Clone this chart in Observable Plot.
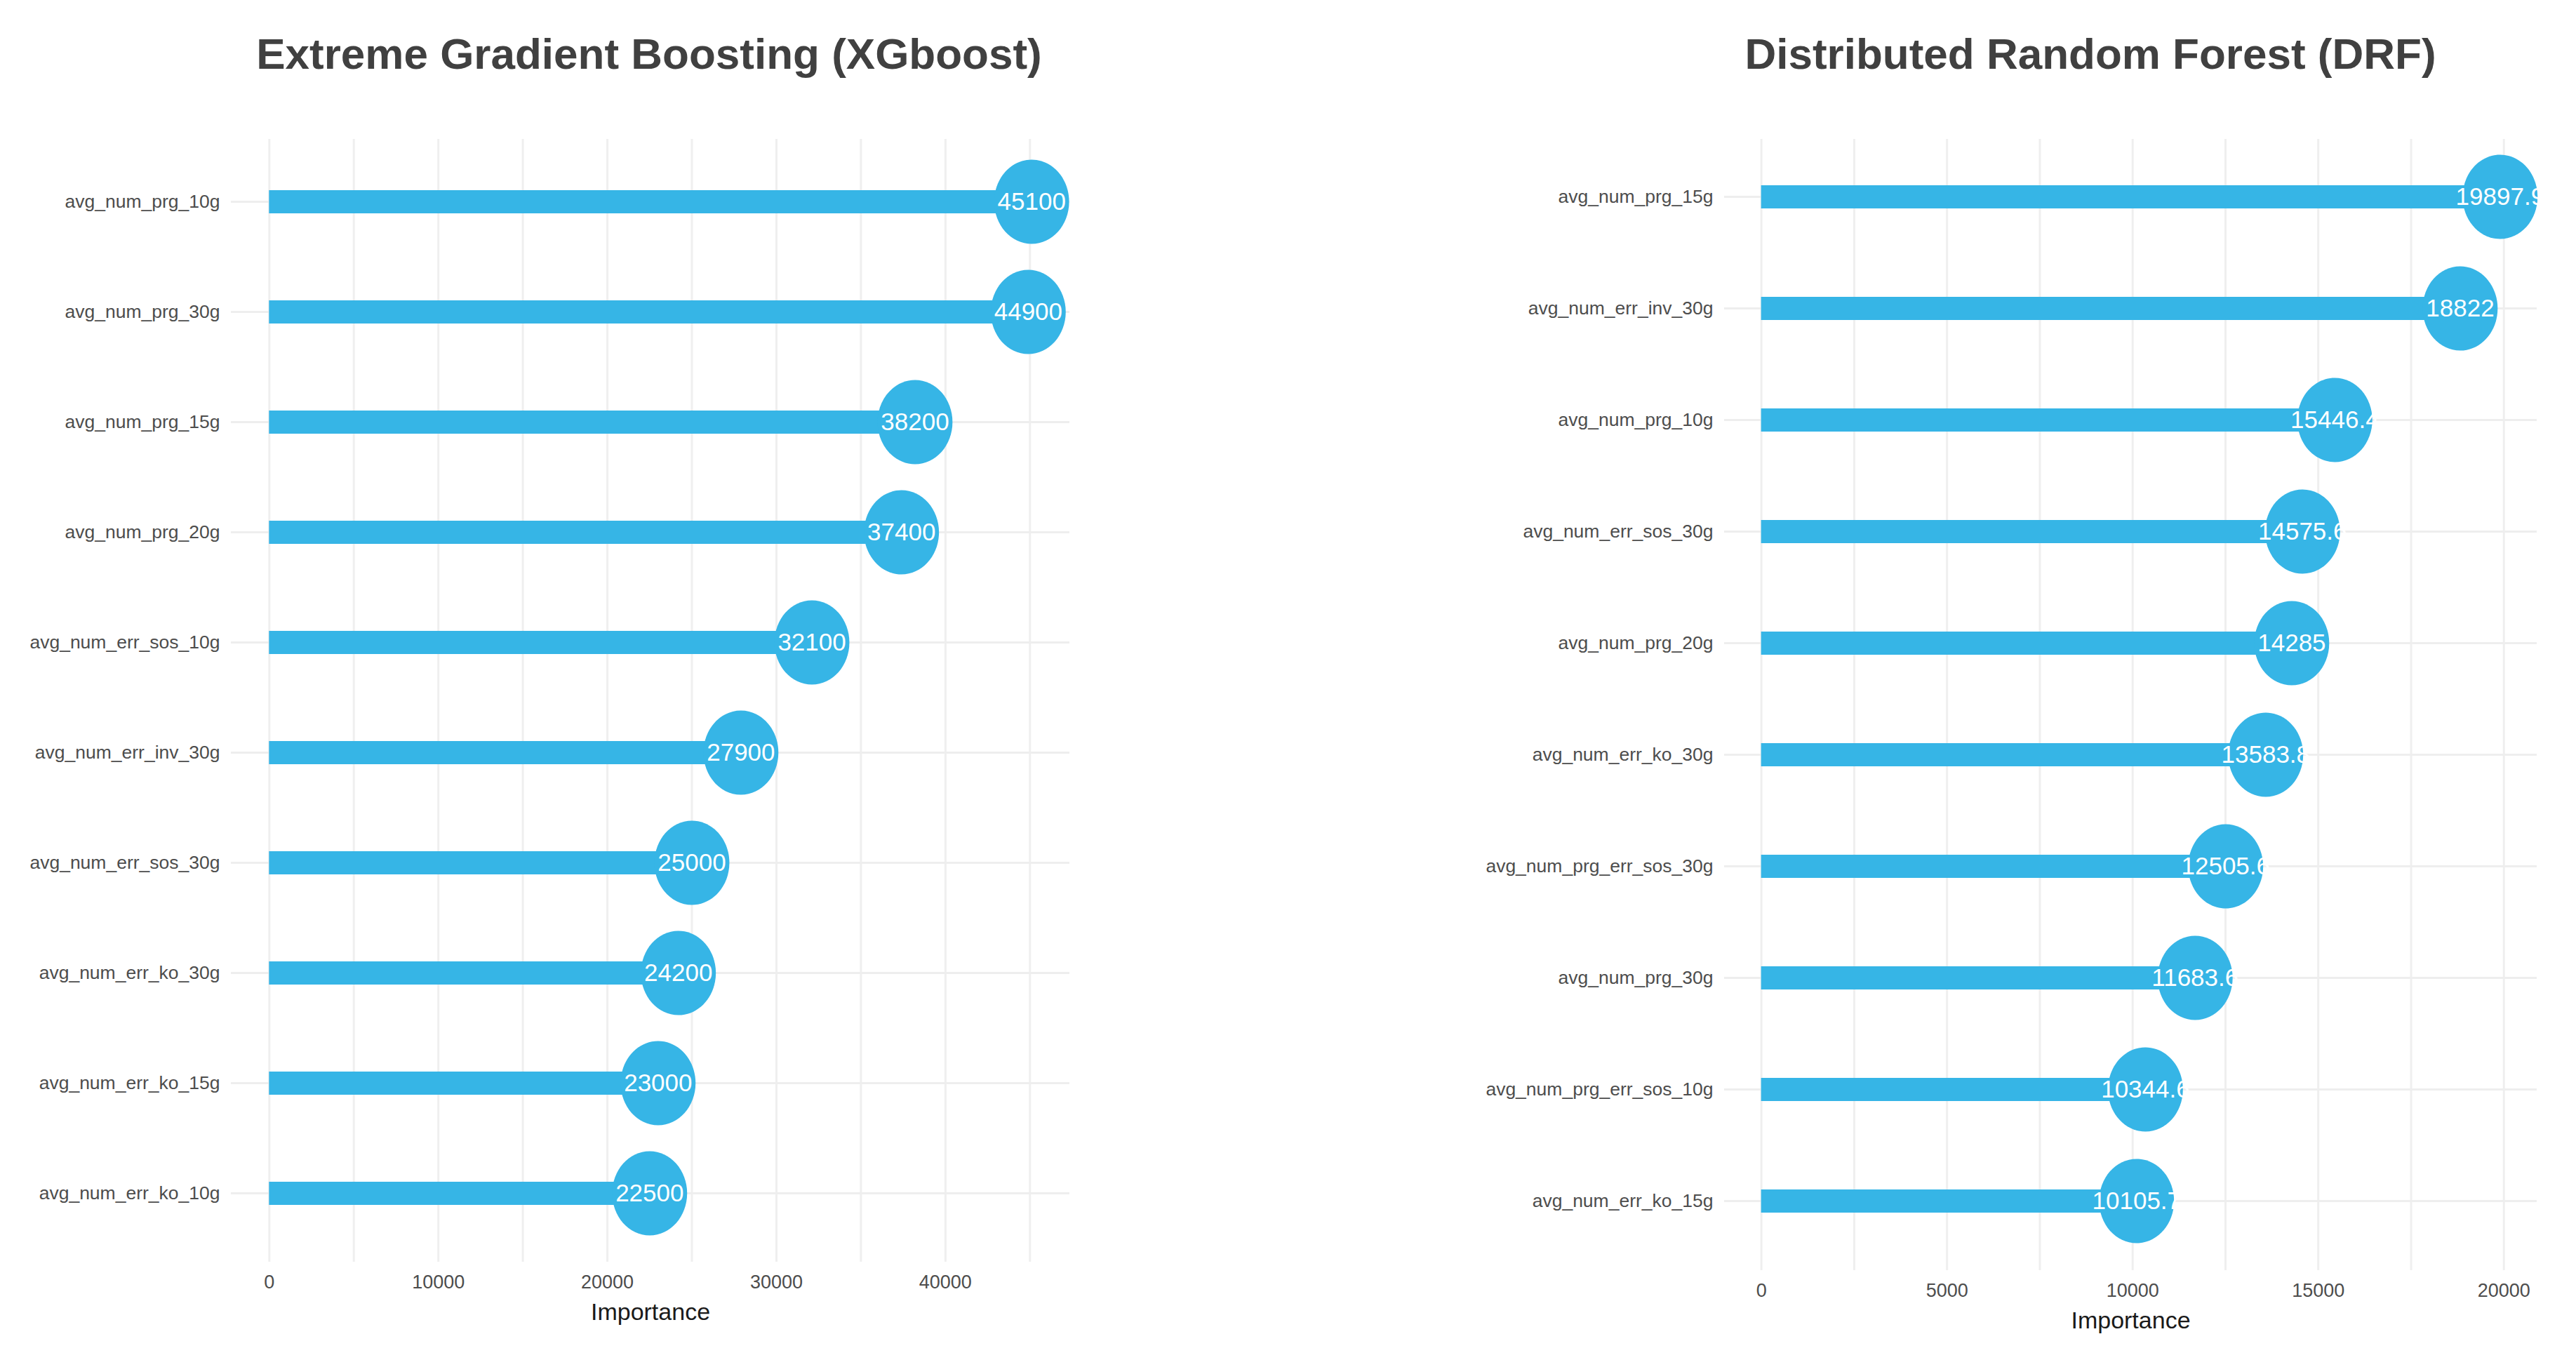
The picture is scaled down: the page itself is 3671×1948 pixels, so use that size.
<!DOCTYPE html>
<html>
<head>
<meta charset="utf-8">
<script src="https://cdn.jsdelivr.net/npm/d3@7"></script>
<script src="https://cdn.jsdelivr.net/npm/@observablehq/plot@0.6"></script>
<style>
  html, body { margin: 0; padding: 0; background: #ffffff; }
  body { width: 3671px; height: 1948px; position: relative; overflow: hidden;
         font-family: "Liberation Sans", Arial, Helvetica, sans-serif; }
  .title { position: absolute; top: 46px; font-size: 62px; line-height: 62px; font-weight: bold;
           color: #404040; text-align: center; white-space: nowrap; }
  .chart { position: absolute; top: 140px; }
</style>
</head>
<body>
<div id="t1" class="title"></div>
<div id="t2" class="title"></div>
<div id="c1" class="chart"></div>
<div id="c2" class="chart"></div>
<script>
// ---- data ----
const xgbTitle = "Extreme Gradient Boosting (XGboost)";
const xgbFeatures = ["avg_num_prg_10g", "avg_num_prg_30g", "avg_num_prg_15g", "avg_num_prg_20g",
  "avg_num_err_sos_10g", "avg_num_err_inv_30g", "avg_num_err_sos_30g", "avg_num_err_ko_30g",
  "avg_num_err_ko_15g", "avg_num_err_ko_10g"];
const xgbImportance = [45100, 44900, 38200, 37400, 32100, 27900, 25000, 24200, 23000, 22500];
const xgbTicks = [0, 10000, 20000, 30000, 40000];
const xgbGrid = [0, 5000, 10000, 15000, 20000, 25000, 30000, 35000, 40000, 45000];

const drfTitle = "Distributed Random Forest (DRF)";
const drfFeatures = ["avg_num_prg_15g", "avg_num_err_inv_30g", "avg_num_prg_10g", "avg_num_err_sos_30g",
  "avg_num_prg_20g", "avg_num_err_ko_30g", "avg_num_prg_err_sos_30g", "avg_num_prg_30g",
  "avg_num_prg_err_sos_10g", "avg_num_err_ko_15g"];
const drfImportance = [19897.9, 18822, 15446.4, 14575.6, 14285, 13583.8, 12505.6, 11683.6, 10344.6, 10105.7];
const drfTicks = [0, 5000, 10000, 15000, 20000];
const drfGrid = [0, 2500, 5000, 7500, 10000, 12500, 15000, 17500, 20000];

const axisLabel = "Importance";

// ---- styling ----
const barColor = "#36b5e6";
const fontFamily = '"Liberation Sans", Arial, Helvetica, sans-serif';

// ellipse symbol (points are slightly taller than wide)
const ellipse = {
  draw(ctx, size) {
    const r = Math.sqrt(size / Math.PI);
    const ry = r, rx = r * 0.89, k = 0.5523;
    ctx.moveTo(rx, 0);
    ctx.bezierCurveTo(rx, k * ry, k * rx, ry, 0, ry);
    ctx.bezierCurveTo(-k * rx, ry, -rx, k * ry, -rx, 0);
    ctx.bezierCurveTo(-rx, -k * ry, -k * rx, -ry, 0, -ry);
    ctx.bezierCurveTo(k * rx, -ry, rx, -k * ry, rx, 0);
    ctx.closePath();
  }
};

function lollipop({features, values, ticks, grid, width, height, marginLeft, marginRight,
                   marginTop, marginBottom, domain, yRange}) {
  const data = features.map((f, i) => ({name: f, value: values[i]}));
  return Plot.plot({
    width, height, marginLeft, marginRight, marginTop, marginBottom,
    style: {fontFamily, color: "#4d4d4d", background: "transparent", overflow: "visible"},
    x: {domain, nice: false},
    y: {type: "point", domain: features, range: yRange, padding: 0},
    marks: [
      Plot.ruleX(grid, {stroke: "#efefef", strokeWidth: 3}),
      Plot.ruleY(features, {stroke: "#eeeeee", strokeWidth: 3}),
      Plot.axisX({ticks, tickSize: 0, tickPadding: 18, fontSize: 27, tickFormat: "d", label: null}),
      Plot.axisY({tickSize: 0, tickPadding: 16, fontSize: 26.5, label: null}),
      Plot.text([axisLabel], {frameAnchor: "bottom", lineAnchor: "top", dy: 58, fontSize: 34, fill: "#1a1a1a"}),
      Plot.ruleY(data, {y: "name", x1: 0, x2: "value", stroke: barColor, strokeWidth: 33}),
      Plot.dot(data, {y: "name", x: "value", r: 60, symbol: ellipse, fill: barColor, stroke: "none"}),
      Plot.text(data, {y: "name", x: "value", text: d => String(d.value), fill: "white", fontSize: 35})
    ]
  });
}

const c1 = lollipop({features: xgbFeatures, values: xgbImportance, ticks: xgbTicks, grid: xgbGrid,
  width: 1835, height: 1808, marginLeft: 329, marginRight: 311, marginTop: 58, marginBottom: 150,
  domain: [-2255, 47355], yRange: [144, 1563]});
document.getElementById("c1").style.left = "0px";
document.getElementById("c1").appendChild(c1);

const c2 = lollipop({features: drfFeatures, values: drfImportance, ticks: drfTicks, grid: drfGrid,
  width: 1836, height: 1808, marginLeft: 622, marginRight: 56, marginTop: 58, marginBottom: 138,
  domain: [-995, 20893], yRange: [136, 1575]});
document.getElementById("c2").style.left = "1835px";
document.getElementById("c2").appendChild(c2);

const t1 = document.getElementById("t1");
t1.textContent = xgbTitle; t1.style.left = "0px"; t1.style.width = "1850px";
const t2 = document.getElementById("t2");
t2.textContent = drfTitle; t2.style.left = "1835px"; t2.style.width = "2288px";
</script>
</body>
</html>
